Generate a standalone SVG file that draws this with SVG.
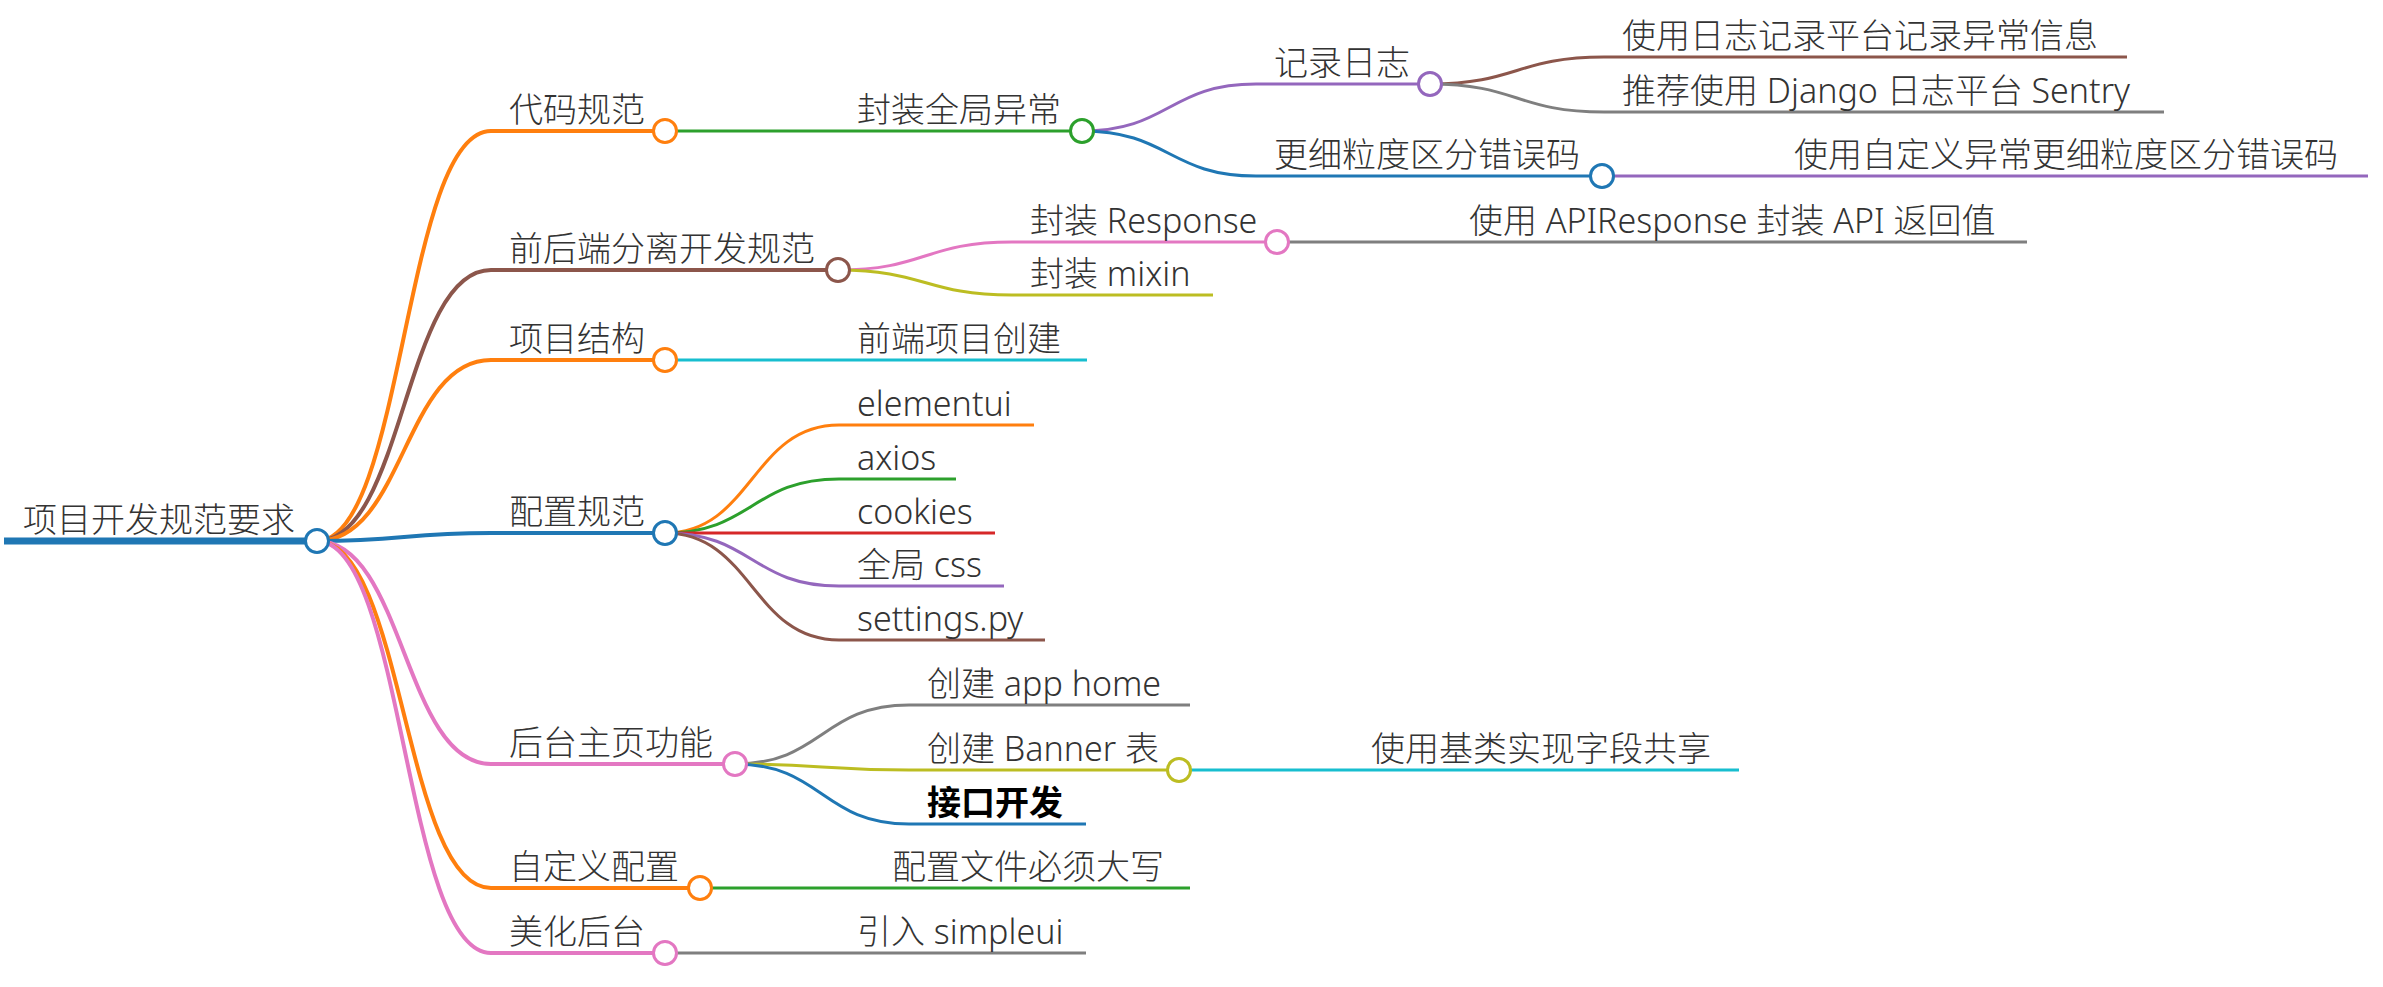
<svg xmlns="http://www.w3.org/2000/svg" width="2383" height="987" viewBox="0 0 2383 987">
<style>
  text { font-family: "Noto Sans", "Noto Sans CJK SC", sans-serif; font-size: 34px; font-weight: 300; fill: #333; }
  text.bold { font-weight: bold; fill: #000; }
  .lk { fill: none; stroke-width: 3; }
  .l1 { stroke-width: 4; }
  .root { stroke-width: 7; }
  circle { fill: #fff; stroke-width: 3; }
  .c-blue { stroke: #1f77b4; } .c-orange { stroke: #ff7f0e; } .c-green { stroke: #2ca02c; }
  .c-red { stroke: #d62728; } .c-purple { stroke: #9467bd; } .c-brown { stroke: #8c564b; }
  .c-pink { stroke: #e377c2; } .c-gray { stroke: #7f7f7f; } .c-olive { stroke: #bcbd22; }
  .c-cyan { stroke: #17becf; }
</style>
<rect width="2383" height="987" fill="#fff"/>
<g id="connectors">
  <path class="lk root c-blue" d="M4,541 H317"/>
  <path class="lk l1 c-orange" d="M317,541 C404,541 404,131 491,131 H665"/>
  <path class="lk l1 c-brown" d="M317,541 C404,541 404,270 491,270 H838"/>
  <path class="lk l1 c-orange" d="M317,541 C404,541 404,360 491,360 H665"/>
  <path class="lk l1 c-blue" d="M317,541 C404,541 404,533 491,533 H665"/>
  <path class="lk l1 c-pink" d="M317,541 C404,541 404,764 491,764 H735"/>
  <path class="lk l1 c-orange" d="M317,541 C404,541 404,888 491,888 H700"/>
  <path class="lk l1 c-pink" d="M317,541 C404,541 404,953 491,953 H665"/>

  <path class="lk c-green" d="M665,131 H1082"/>
  <path class="lk c-pink" d="M838,270 C925,270 925,242 1012,242 H1277"/>
  <path class="lk c-olive" d="M838,270 C925,270 925,295 1012,295 H1213"/>
  <path class="lk c-cyan" d="M665,360 H1087"/>
  <path class="lk c-orange" d="M665,533 C752,533 752,425 839,425 H1034"/>
  <path class="lk c-green" d="M665,533 C752,533 752,479 839,479 H956"/>
  <path class="lk c-red" d="M665,533 H995"/>
  <path class="lk c-purple" d="M665,533 C752,533 752,586 839,586 H1004"/>
  <path class="lk c-brown" d="M665,533 C752,533 752,640 839,640 H1045"/>
  <path class="lk c-gray" d="M735,764 C822,764 822,705 909,705 H1190"/>
  <path class="lk c-olive" d="M735,764 C822,764 822,770 909,770 H1179"/>
  <path class="lk c-blue" d="M735,764 C822,764 822,824 909,824 H1086"/>
  <path class="lk c-green" d="M700,888 H1190"/>
  <path class="lk c-gray" d="M665,953 H1086"/>

  <path class="lk c-purple" d="M1082,131 C1169,131 1169,84 1256,84 H1430"/>
  <path class="lk c-blue" d="M1082,131 C1169,131 1169,176 1256,176 H1602"/>
  <path class="lk c-gray" d="M1277,242 H2027"/>
  <path class="lk c-cyan" d="M1179,770 H1739"/>

  <path class="lk c-brown" d="M1430,84 C1517,84 1517,57 1604,57 H2127"/>
  <path class="lk c-gray" d="M1430,84 C1517,84 1517,112 1604,112 H2164"/>
  <path class="lk c-purple" d="M1602,176 H2368"/>
</g>
<g id="n-root"><text x="23" y="532">项目开发规范要求</text><circle class="c-blue" cx="317" cy="541" r="11.5"/></g>
<g id="n-code"><text x="509" y="122">代码规范</text><circle class="c-orange" cx="665" cy="131" r="11.5"/></g>
<g id="n-fe-be"><text x="509" y="261">前后端分离开发规范</text><circle class="c-brown" cx="838" cy="270" r="11.5"/></g>
<g id="n-struct"><text x="509" y="351">项目结构</text><circle class="c-orange" cx="665" cy="360" r="11.5"/></g>
<g id="n-config"><text x="509" y="524">配置规范</text><circle class="c-blue" cx="665" cy="533" r="11.5"/></g>
<g id="n-admin"><text x="509" y="755">后台主页功能</text><circle class="c-pink" cx="735" cy="764" r="11.5"/></g>
<g id="n-custom"><text x="509" y="879">自定义配置</text><circle class="c-orange" cx="700" cy="888" r="11.5"/></g>
<g id="n-beauty"><text x="509" y="944">美化后台</text><circle class="c-pink" cx="665" cy="953" r="11.5"/></g>

<g id="n-exc"><text x="857" y="122">封装全局异常</text><circle class="c-green" cx="1082" cy="131" r="11.5"/></g>
<g id="n-resp"><text x="1030" y="233">封装 Response</text><circle class="c-pink" cx="1277" cy="242" r="11.5"/></g>
<g id="n-mixin"><text x="1030" y="286">封装 mixin</text></g>
<g id="n-fecreate"><text x="857" y="351">前端项目创建</text></g>
<g id="n-elementui"><text x="857" y="416">elementui</text></g>
<g id="n-axios"><text x="857" y="470">axios</text></g>
<g id="n-cookies"><text x="857" y="524">cookies</text></g>
<g id="n-css"><text x="857" y="577">全局 css</text></g>
<g id="n-settings"><text x="857" y="631">settings.py</text></g>
<g id="n-apphome"><text x="927" y="696">创建 app home</text></g>
<g id="n-banner"><text x="927" y="761">创建 Banner 表</text><circle class="c-olive" cx="1179" cy="770" r="11.5"/></g>
<g id="n-api"><text class="bold" x="927" y="815">接口开发</text></g>
<g id="n-upper"><text x="892" y="879">配置文件必须大写</text></g>
<g id="n-simpleui"><text x="857" y="944">引入 simpleui</text></g>

<g id="n-log"><text x="1274" y="75">记录日志</text><circle class="c-purple" cx="1430" cy="84" r="11.5"/></g>
<g id="n-finer"><text x="1274" y="167">更细粒度区分错误码</text><circle class="c-blue" cx="1602" cy="176" r="11.5"/></g>
<g id="n-apiresp"><text x="1469" y="233">使用 APIResponse 封装 API 返回值</text></g>
<g id="n-base"><text x="1371" y="761">使用基类实现字段共享</text></g>

<g id="n-logplat"><text x="1622" y="48">使用日志记录平台记录异常信息</text></g>
<g id="n-sentry"><text x="1622" y="103">推荐使用 Django 日志平台 Sentry</text></g>
<g id="n-custexc"><text x="1794" y="167">使用自定义异常更细粒度区分错误码</text></g>
</svg>
